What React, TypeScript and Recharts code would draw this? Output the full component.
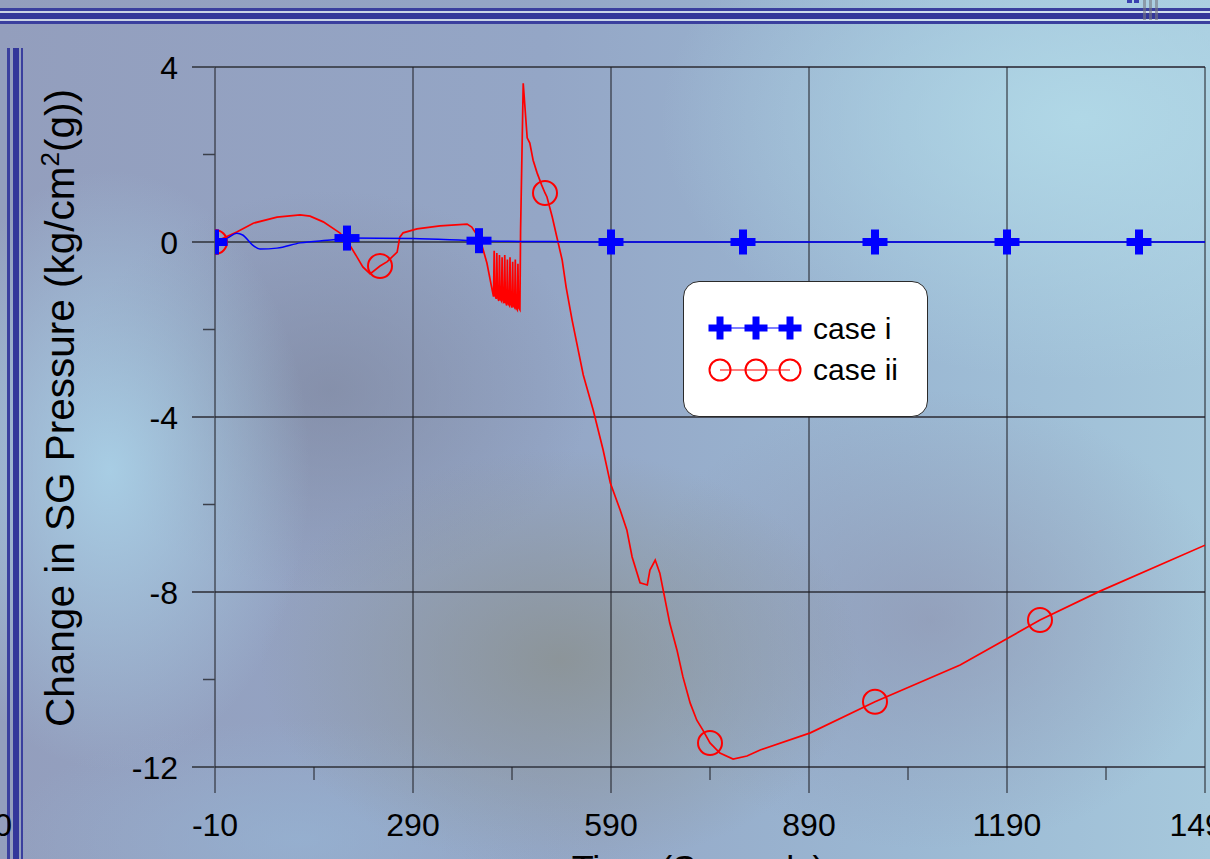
import React from 'react';
import { LineChart, Line, XAxis, YAxis, CartesianGrid, Legend } from 'recharts';

// ---------- data ----------
const caseITimes = [-10, 10, 23, 32, 47, 58, 84, 119, 169, 190, 290, 390, 500, 590, 790, 990, 1190, 1390, 1490];
const caseIValues = [0, 0.1, 0.2, 0.16, -0.07, -0.16, -0.14, -0.02, 0.05, 0.09, 0.08, 0.03, 0.01, 0, 0, 0, 0, 0, 0];
const caseIMarkerTimes = [-10, 190, 390, 590, 790, 990, 1190, 1390];

const caseIITimes = [
  -10, 23, 48, 84, 119, 134, 154, 179, 192, 205, 214, 225, 240, 251, 266, 270, 275, 296, 331, 372, 379, 387, 395, 402,
  410, 412, 413, 414, 416, 417, 418, 420, 421, 422, 424, 425, 426, 428, 429, 430, 432, 433, 434, 436, 437, 438, 440, 441, 442, 444, 445, 446, 448, 449, 450, 452,
  453, 457, 463, 467, 472, 478, 485, 490, 493, 501, 508, 516, 522, 531, 540, 548, 563, 578, 589, 604, 614, 622, 634, 645,
  649, 657, 664, 669, 679, 690, 699, 710, 720, 729, 740, 755, 775, 796, 816, 892, 990, 1119, 1240, 1331, 1490,
];
const caseIIValues = [
  0, 0.23, 0.43, 0.57, 0.62, 0.59, 0.46, 0.21, -0.02, -0.34, -0.57, -0.73, -0.55, -0.45, -0.23, 0.11, 0.21, 0.3, 0.37, 0.41, 0.34, 0.16, -0.11, -0.48,
  -1.1, -1.25, -0.2, -1.2, -1.3, -0.25, -1.25, -1.35, -0.3, -1.3, -1.35, -0.35, -1.3, -1.4, -0.3, -1.35, -1.45, -0.4, -1.4, -1.45, -0.35, -1.4, -1.5, -0.45, -1.45, -1.5, -0.4, -1.5, -1.55, -0.5, -1.5, -1.55,
  0.27, 3.63, 2.38, 2.26, 1.87, 1.58, 1.3, 1.12, 1.03, 0.57, 0.11, -0.41, -1.03, -1.78, -2.45, -3.04, -3.84, -4.75, -5.51, -6.13, -6.58, -7.2, -7.79, -7.84,
  -7.5, -7.27, -7.57, -7.95, -8.71, -9.33, -9.94, -10.54, -10.93, -11.15, -11.45, -11.68, -11.82, -11.75, -11.61, -11.22, -10.51, -9.67, -8.64, -7.98, -6.93,
];
const caseIIMarkerTimes = [-10, 240, 490, 740, 990, 1240];

const xMajorTicks = [-10, 290, 590, 890, 1190, 1490];
const xMinorTicks = [140, 440, 740, 1040, 1340];
const yMajorTicks = [4, 0, -4, -8, -12];
const yMinorTicks = [2, -2, -6, -10];

const seriesNames = ['case i', 'case ii'];
const yTitle = ['Change in SG Pressure (kg/cm', '2', '(g))'];
const xTitle = 'Time (Seconds)';

const caseIData = caseITimes.map((t, i) => ({ t, v: caseIValues[i] }));
const caseIIData = caseIITimes.map((t, i) => ({ t, v: caseIIValues[i] }));

// ---------- styles ----------
const FONT = '"Liberation Sans", Arial, "DejaVu Sans", sans-serif';
const BLUE = '#0000ff';
const RED = '#ff0000';
const HGRID = '#474d5a';
const VGRID = '#1c1c22';

const PlusShape = ({ cx, cy, s = 25, w = 8 }: any) => (
  <g>
    <rect x={cx - s / 2} y={cy - w / 2} width={s} height={w} fill={BLUE} />
    <rect x={cx - w / 2} y={cy - s / 2} width={w} height={s} fill={BLUE} />
  </g>
);

const plusDot = (props: any) => {
  const { cx, cy, payload, index } = props;
  if (!caseIMarkerTimes.includes(payload.t) || cx == null) return <g key={`pd-${index}`} />;
  return (
    <g key={`pd-${index}`}>
      <PlusShape cx={cx} cy={cy} />
    </g>
  );
};

const circleDot = (props: any) => {
  const { cx, cy, payload, index } = props;
  if (!caseIIMarkerTimes.includes(payload.t) || cx == null) return <g key={`cd-${index}`} />;
  return <circle key={`cd-${index}`} cx={cx} cy={cy} r={12} fill="none" stroke={RED} strokeWidth={2} />;
};

const XTick = (props: any) => {
  const { x, y, payload } = props;
  const major = xMajorTicks.includes(payload.value);
  if (!major) {
    return <line x1={x} x2={x} y1={y} y2={y + 13} stroke={VGRID} strokeWidth={1} />;
  }
  return (
    <g>
      <line x1={x} x2={x} y1={y} y2={y + 26} stroke={VGRID} strokeWidth={1} />
      <text x={x} y={y + 69} textAnchor="middle" fontSize={32} fontFamily={FONT} fill="#000">
        {payload.value}
      </text>
    </g>
  );
};

const YTick = (props: any) => {
  const { x, y, payload } = props;
  const major = yMajorTicks.includes(payload.value);
  if (!major) {
    return <line x1={x - 12} x2={x} y1={y} y2={y} stroke="#3a3f4a" strokeWidth={1.5} />;
  }
  return (
    <g>
      <line x1={x - 23} x2={x} y1={y} y2={y} stroke={HGRID} strokeWidth={2} />
      <text x={x - 37} y={y + 11.5} textAnchor="end" fontSize={32} fontFamily={FONT} fill="#000">
        {payload.value}
      </text>
    </g>
  );
};

const YTitle = (props: any) => {
  const { viewBox } = props;
  const cx = viewBox.x - 81;
  const cy = viewBox.y + viewBox.height / 2 - 9;
  return (
    <text
      x={cx}
      y={cy}
      transform={`rotate(-90, ${cx}, ${cy})`}
      textAnchor="middle"
      fontSize={40.5}
      fontFamily={FONT}
      fill="#000"
    >
      {yTitle[0]}
      <tspan dy={-15} fontSize={26}>{yTitle[1]}</tspan>
      <tspan dy={15}>{yTitle[2]}</tspan>
    </text>
  );
};

const XTitle = (props: any) => {
  const { viewBox } = props;
  const cx = viewBox.x + viewBox.width / 2 - 12;
  return (
    <text x={cx} y={viewBox.y + 115} textAnchor="middle" fontSize={36} fontFamily={FONT} fill="#000">
      {xTitle}
    </text>
  );
};

const LegendBox = () => (
  <div
    style={{
      width: 245,
      height: 136,
      boxSizing: 'border-box',
      background: '#ffffff',
      border: '1.5px solid #2a2a2a',
      borderRadius: 16,
      position: 'relative',
      overflow: 'hidden',
    }}
  >
    <svg width={245} height={136} style={{ position: 'absolute', left: -1.5, top: -1.5 }}>
      <line x1={37} x2={107} y1={47} y2={47} stroke={BLUE} strokeWidth={1.2} />
      {[37, 73, 107].map((cx) => (
        <PlusShape key={`lp${cx}`} cx={cx} cy={47} s={23} w={7} />
      ))}
      <line x1={37} x2={107} y1={89} y2={89} stroke={RED} strokeWidth={1.2} />
      {[37, 73, 107].map((cx) => (
        <circle key={`lc${cx}`} cx={cx} cy={89} r={10.5} fill="none" stroke={RED} strokeWidth={2} />
      ))}
      <text x={130} y={58} fontSize={30} fontFamily={FONT} fill="#000">{seriesNames[0]}</text>
      <text x={130} y={99} fontSize={30} fontFamily={FONT} fill="#000">{seriesNames[1]}</text>
    </svg>
  </div>
);

const bg = [
  'radial-gradient(ellipse 200px 300px at 110px 470px, rgba(170,210,232,0.9), rgba(170,210,232,0) 100%)',
  'radial-gradient(ellipse 300px 210px at 560px 660px, rgba(138,144,142,0.8), rgba(138,144,142,0) 100%)',
  'radial-gradient(ellipse 260px 200px at 330px 390px, rgba(126,134,158,0.65), rgba(126,134,158,0) 100%)',
  'radial-gradient(ellipse 300px 230px at 930px 620px, rgba(140,140,168,0.55), rgba(140,140,168,0) 100%)',
  'radial-gradient(ellipse 420px 260px at 1080px 120px, rgba(178,218,232,0.9), rgba(178,218,232,0) 100%)',
  'radial-gradient(ellipse 300px 120px at 300px 840px, rgba(150,180,212,0.7), rgba(150,180,212,0) 100%)',
  'linear-gradient(90deg, #939ebd 0%, #94a6c6 45%, #9bb8d3 75%, #a6c8dc 100%)',
].join(', ');

const Stripe = ({ style }: any) => <div style={{ position: 'absolute', ...style }} />;

export default function App() {
  return (
    <div
      style={{
        position: 'absolute',
        left: 0,
        top: 0,
        width: 1210,
        height: 859,
        overflow: 'hidden',
        background: bg,
      }}
    >
      {/* decorative frame stripes */}
      <Stripe style={{ left: 0, top: 11, width: 1210, height: 2, background: 'rgba(225,232,245,0.7)' }} />
      <Stripe style={{ left: 0, top: 19, width: 1210, height: 2, background: 'rgba(225,232,245,0.7)' }} />
      <Stripe style={{ left: 0, top: 8, width: 1210, height: 3, background: '#3a3f9e' }} />
      <Stripe style={{ left: 0, top: 13, width: 1210, height: 6, background: '#33379a' }} />
      <Stripe style={{ left: 0, top: 21, width: 1210, height: 3, background: '#3a3f9e' }} />
      <Stripe style={{ left: 1127, top: 0, width: 5, height: 3, background: '#3a3fb0' }} />
      <Stripe style={{ left: 1134, top: 0, width: 5, height: 3, background: '#3a3fb0' }} />
      <Stripe style={{ left: 1143, top: 0, width: 3, height: 20, background: 'rgba(120,120,130,0.6)' }} />
      <Stripe style={{ left: 1149, top: 0, width: 3, height: 20, background: 'rgba(120,120,130,0.6)' }} />
      <Stripe style={{ left: 1155, top: 0, width: 3, height: 20, background: 'rgba(120,120,130,0.6)' }} />
      <Stripe style={{ left: 7, top: 48, width: 3, height: 811, background: '#3a3f9e' }} />
      <Stripe style={{ left: 13, top: 48, width: 6, height: 811, background: '#33379a' }} />
      <Stripe style={{ left: 21, top: 48, width: 2, height: 811, background: '#3a3f9e' }} />
      <svg width={40} height={859} style={{ position: 'absolute', left: 0, top: 0 }}>
        <text x={12} y={836} textAnchor="end" fontSize={32} fontFamily={FONT} fill="#000">0</text>
      </svg>

      <div style={{ position: 'absolute', left: 0, top: 0 }}>
        <LineChart width={1300} height={859} margin={{ top: 67, right: 95, left: 155, bottom: 62 }}>
          <CartesianGrid horizontal={true} vertical={false} horizontalValues={yMajorTicks} stroke={HGRID} strokeWidth={2} />
          <CartesianGrid horizontal={false} vertical={true} verticalValues={xMajorTicks} stroke={VGRID} strokeWidth={1} />
          <XAxis
            dataKey="t"
            type="number"
            domain={[-10, 1490]}
            ticks={[...xMajorTicks, ...xMinorTicks].sort((a, b) => a - b)}
            interval={0}
            tickSize={0}
            tickMargin={0}
            tickLine={false}
            axisLine={false}
            tick={<XTick />}
            height={30}
            allowDataOverflow
            label={<XTitle />}
          />
          <YAxis
            type="number"
            domain={[-12, 4]}
            ticks={[...yMajorTicks, ...yMinorTicks].sort((a, b) => a - b)}
            interval={0}
            tickSize={0}
            tickMargin={0}
            tickLine={false}
            axisLine={false}
            tick={<YTick />}
            width={60}
            allowDataOverflow
            label={<YTitle />}
          />
          <Legend
            layout="horizontal"
            verticalAlign="middle"
            align="center"
            content={() => <LegendBox />}
            wrapperStyle={{ position: 'absolute', left: 683, top: 281, width: 245, height: 136 }}
          />
          <Line
            data={caseIIData}
            dataKey="v"
            name={seriesNames[1]}
            type="linear"
            stroke={RED}
            strokeWidth={1.7}
            dot={circleDot}
            activeDot={false}
            isAnimationActive={false}
          />
          <Line
            data={caseIData}
            dataKey="v"
            name={seriesNames[0]}
            type="monotone"
            stroke={BLUE}
            strokeWidth={1.5}
            dot={plusDot}
            activeDot={false}
            isAnimationActive={false}
          />
        </LineChart>
      </div>
    </div>
  );
}
